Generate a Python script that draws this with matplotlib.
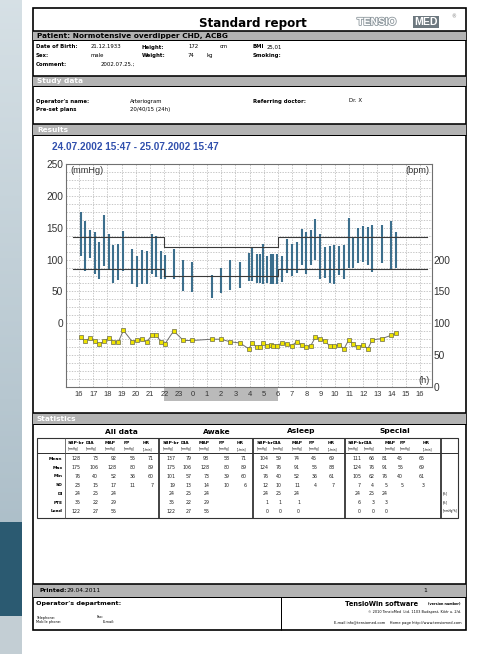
import matplotlib
matplotlib.use('Agg')
import matplotlib.pyplot as plt
from matplotlib.patches import Rectangle
import matplotlib.patheffects as pe
import numpy as np

W, H = 491, 654

# ---------------- data ----------------
times = [16.12, 16.42, 16.77, 17.10, 17.43, 17.76, 18.11, 18.41, 18.77, 19.12,
         19.75, 20.08, 20.41, 20.76, 21.12, 21.44, 21.77, 22.05, 22.66, 23.34,
         23.97, 25.34, 25.97, 26.63, 27.33, 27.94, 28.20, 28.51, 28.74, 28.97,
         29.25, 29.49, 29.67, 29.91, 30.29, 30.66, 30.97, 31.32, 31.67, 31.97,
         32.31, 32.63, 32.96, 33.31, 33.66, 33.97, 34.30, 34.65, 34.98, 35.30,
         35.66, 36.01, 36.32, 36.64, 37.32, 37.96, 38.31]
sbp = [175, 160, 146, 143, 128, 170, 140, 123, 125, 145,
       117, 106, 115, 114, 140, 137, 113, 107, 117, 99,
       96, 76, 86, 100, 96, 110, 120, 108, 108, 125,
       105, 108, 109, 108, 106, 132, 125, 128, 148, 143,
       146, 164, 140, 120, 122, 123, 122, 123, 166, 134,
       150, 152, 151, 155, 155, 161, 143]
dia = [106, 82, 103, 77, 69, 90, 84, 64, 68, 82,
       61, 57, 62, 61, 77, 73, 70, 69, 69, 50,
       49, 40, 48, 53, 55, 66, 67, 64, 64, 62,
       64, 61, 62, 62, 65, 79, 74, 79, 92, 77,
       91, 100, 69, 71, 64, 61, 76, 69, 86, 86,
       95, 96, 92, 81, 95, 83, 86]
hr = [78, 72, 77, 72, 67, 72, 77, 71, 71, 89,
      71, 74, 75, 71, 81, 81, 71, 68, 88, 73,
      73, 75, 75, 71, 69, 60, 69, 62, 63, 69,
      65, 66, 65, 65, 69, 67, 65, 71, 66, 63,
      65, 78, 76, 72, 64, 64, 66, 60, 74, 67,
      63, 66, 60, 74, 76, 81, 84]

limit_x = [15.6, 22, 22, 30, 30, 40.5]
limit_sys = [135, 135, 120, 120, 135, 135]
limit_dia = [85, 85, 75, 75, 85, 85]
sleep_from, sleep_to = 22, 30

hour_ticks = list(range(16, 41))
hour_labels = [str(h % 24) for h in hour_ticks]
left_ticks = [0, 50, 100, 150, 200, 250]
right_ticks = [0, 50, 100, 150, 200]

stat_groups = ['All data', 'Awake', 'Asleep', 'Special']
stat_cols = ['SBP-br', 'DIA', 'MAP', 'PP', 'HR']
stat_units = ['[mmHg]', '[mmHg]', '[mmHg]', '[mmHg]', '[1/min]']
stat_rows = ['Mean', 'Max', 'Min', 'SD', 'DI', 'PTE', 'Load']
stat_row_units = ['', '', '', '', '[%]', '[%]', '[mmHg*h]']
stats_all = [[128, 73, 92, 55, 71], [175, 106, 128, 80, 89], [76, 40, 52, 36, 60],
             [23, 15, 17, 11, 7], [24, 25, 24], [35, 22, 29], [122, 27, 55]]
stats_awake = [[137, 79, 98, 58, 71], [175, 106, 128, 80, 89], [101, 57, 73, 39, 60],
               [19, 13, 14, 10, 6], [24, 25, 24], [35, 22, 29], [122, 27, 55]]
stats_asleep = [[104, 59, 74, 45, 69], [124, 76, 91, 55, 88], [76, 40, 52, 36, 61],
                [12, 10, 11, 4, 7], [24, 25, 24], [1, 1, 1], [0, 0, 0]]
stats_special = [[111, 66, 81, 45, 65], [124, 76, 91, 55, 69], [105, 62, 76, 40, 61],
                 [7, 4, 5, 5, 3], [24, 25, 24], [6, 3, 3], [0, 0, 0]]
stats_data = [stats_all, stats_awake, stats_asleep, stats_special]

# ---------------- page ----------------
fig = plt.figure(figsize=(W / 100, H / 100), dpi=100)
bg = fig.add_axes([0, 0, 1, 1])
bg.set_xlim(0, W)
bg.set_ylim(H, 0)
bg.axis('off')

SANS = 'DejaVu Sans'
ARIAL = 'Liberation Sans'


def T(x, y, s, size, bold=False, color='black', ha='left', va='center', family=SANS, z=5, **kw):
    return bg.text(x, y, s, fontsize=size, fontweight='bold' if bold else 'normal',
                   color=color, ha=ha, va=va, family=family, zorder=z, **kw)


def R(x0, y0, x1, y1, fc, ec='none', lw=0, z=1):
    bg.add_patch(Rectangle((x0, y0), x1 - x0, y1 - y0, fc=fc, ec=ec, lw=lw, zorder=z))


def L(xs, ys, color='black', lw=1.0, z=4):
    bg.plot(xs, ys, color=color, lw=lw * 0.72, zorder=z, solid_capstyle='butt')


# left background strip
grad = np.linspace(0, 1, 200)[:, None]
cols = np.array([[0.84, 0.88, 0.90], [0.68, 0.75, 0.79]])
img = cols[0] * (1 - grad[..., None]) + cols[1] * grad[..., None]
bg.imshow(img, extent=[0, 22, 522, 0], aspect='auto', zorder=0)
R(0, 522, 22, 616, '#2b5a71', z=0.5)
R(0, 616, 22, 654, '#c3ced4', z=0.5)

# outer frame
R(33, 8, 466, 630, 'white', ec='black', lw=1.2, z=1)

# title
T(253, 24, 'Standard report', 8.6, bold=True, ha='center')
T(357, 22, 'TENSIO', 7.6, bold=True, color='white', family=ARIAL,
  path_effects=[pe.withStroke(linewidth=1.2, foreground='#8e989e')])
T(414, 22, 'MED', 7.6, bold=True, color='white', family=ARIAL,
  bbox=dict(boxstyle='square,pad=0.12', fc='#6d787f', ec='none'))
T(451, 17, '®', 3.5, color='#777777')

# bands
def band(y0, y1, text, tcolor):
    R(33, y0, 466, y1, '#b3b3b3', z=2)
    L([33, 466], [y0, y0], lw=1.6)
    L([33, 466], [y1, y1], lw=1.0)
    T(37, (y0 + y1) / 2 + 0.3, text, 5.3, bold=True, color=tcolor)


band(31, 39.5, 'Patient: Normotensive overdipper CHD, ACBG', 'black')
band(76, 86, 'Study data', 'white')
band(124, 135, 'Results', 'white')
band(413, 424, 'Statistics', 'white')
band(584, 597, '', 'black')

# patient info
fs = 3.9
T(36, 47, 'Date of Birth:', fs, bold=True)
T(91, 47, '21.12.1933', fs)
T(142, 47, 'Height:', fs, bold=True)
T(188, 47, '172', fs)
T(220, 47, 'cm', fs)
T(253, 47, 'BMI', fs, bold=True)
T(267, 47, '25,01', fs)
T(36, 55.5, 'Sex:', fs, bold=True)
T(91, 55.5, 'male', fs)
T(142, 55.5, 'Weight:', fs, bold=True)
T(188, 55.5, '74', fs)
T(207, 55.5, 'kg', fs)
T(253, 55.5, 'Smoking:', fs, bold=True)
T(36, 64, 'Comment:', fs, bold=True)
T(101, 64, '2002.07.25.;', fs)

T(36, 101, "Operator's name:", fs, bold=True)
T(130, 101, 'Arteriogram', fs)
T(253, 101, 'Referring doctor:', fs, bold=True)
T(349, 101, 'Dr. X', fs)
T(36, 110, 'Pre-set plans', fs, bold=True)
T(130, 110, '20/40/15 (24h)', fs)

T(52, 147, '24.07.2002 15:47 - 25.07.2002 15:47', 7.2, bold=True, color='#3150ad', family=ARIAL)

# ---------------- chart ----------------
x0, x1, ytop, ybot = 66, 432, 164, 387
ax = fig.add_axes([x0 / W, 1 - ybot / H, (x1 - x0) / W, (ybot - ytop) / H], zorder=3)
ax.set_xlim(15.08, 40.84)
ax.set_ylim(-100, 250)
ax.set_xticks(hour_ticks)
ax.set_xticklabels(hour_labels)
ax.set_yticks(left_ticks)
ax.set_yticks(np.arange(-100, 250.1, 12.5), minor=True)
ax.grid(which='both', color='#bdbdbd', linestyle=(0, (1.6, 1.6)), lw=0.6)
ax.set_axisbelow(True)
ax.tick_params(which='both', length=0)
ax.tick_params(axis='y', labelsize=7.3, pad=2.0, labelcolor='#333333')
ax.tick_params(axis='x', labelsize=5.4, pad=3.0, labelcolor='#333333')
for lab in ax.get_xticklabels() + ax.get_yticklabels():
    lab.set_family(ARIAL)
for sp in ax.spines.values():
    sp.set_color('#707070')
    sp.set_linewidth(0.8)

ax.vlines(times, dia, sbp, color='#3c6f8d', lw=1.5, zorder=3)
ax.plot(limit_x, limit_sys, color='#3a3a3a', lw=0.8, zorder=4)
ax.plot(limit_x, limit_dia, color='#3a3a3a', lw=0.8, zorder=4)

trans = matplotlib.transforms.blended_transform_factory(ax.transData, ax.transAxes)
ax.add_patch(Rectangle((sleep_from, -0.064), sleep_to - sleep_from, 0.064, transform=trans,
                       clip_on=False, fc='#bababa', ec='none', zorder=0))

ax2 = ax.twinx()
ax2.set_ylim(0, 350)
ax2.set_yticks(right_ticks)
ax2.tick_params(length=0, labelsize=7.3, pad=1.0, labelcolor='#333333')
for lab in ax2.get_yticklabels():
    lab.set_family(ARIAL)
for sp in ax2.spines.values():
    sp.set_visible(False)
ax2.plot(times, hr, color='#6f6f6f', lw=0.7, marker='s', ms=3.0,
         mfc='#efe400', mec='#6b6b4a', mew=0.5, zorder=5)

ax.text(0.011, 0.972, '(mmHg)', transform=ax.transAxes, fontsize=6.6, family=ARIAL,
        color='#333333', ha='left', va='center')
ax.text(0.994, 0.972, '(bpm)', transform=ax.transAxes, fontsize=6.6, family=ARIAL,
        color='#333333', ha='right', va='center')
ax.text(0.994, 0.027, '(h)', transform=ax.transAxes, fontsize=6.6, family=ARIAL,
        color='#333333', ha='right', va='center')

# ---------------- statistics table ----------------
tx0, tx1, ty0, ty1 = 36.7, 458, 438.3, 518
R(tx0, ty0, tx1, ty1, 'none', ec='#333333', lw=0.8, z=3)
L([tx0, tx1], [453.3, 453.3], color='#333333', lw=1.0)
L([65, 65], [ty0, ty1], color='#555555', lw=0.8)
for gx in [159.3, 252.7, 345, 440.7]:
    L([gx, gx], [ty0, ty1], color='#333333', lw=1.8)

title_x = [121.7, 216.7, 301.7, 395]
hdr_left = [[68, 86, 105, 124, 143],
            [162.7, 180.7, 199, 219, 236.7],
            [256.7, 273, 291.7, 308.7, 328],
            [348, 364, 385, 400, 422.7]]
val_right = [[80.7, 98.3, 116.7, 135.7, 153.3],
             [175, 191.7, 209.3, 229.3, 246.7],
             [268.3, 281.7, 300, 317.3, 335],
             [361, 374.3, 387.7, 403.3, 425]]
row_y = [459 + i * 8.7 for i in range(len(stat_rows))]

for g, name in enumerate(stat_groups):
    T(title_x[g], 431.5, name, 5.4, bold=True, ha='center')
    for c, col in enumerate(stat_cols):
        T(hdr_left[g][c], 442.5, col, 3.2, bold=True)
        T(hdr_left[g][c], 449.3, stat_units[g and 0 or 0] if False else stat_units[c], 1.9)
    for r, rowvals in enumerate(stats_data[g]):
        for c, v in enumerate(rowvals):
            T(val_right[g][c], row_y[r], str(v), 3.4, ha='right', color='#222222')

for r, name in enumerate(stat_rows):
    T(62.5, row_y[r], name, 3.2, bold=True, ha='right')
    if stat_row_units[r]:
        T(442.5, row_y[r], stat_row_units[r], 2.0)

# ---------------- footer ----------------
T(40, 590.5, 'Printed:', 4.3, bold=True)
T(67, 590.5, '29.04.2011', 4.3)
T(425, 591, '1', 4.3, ha='center')
L([280.7, 280.7], [597, 630], lw=1.0)
T(36, 603.5, "Operator's department:", 4.6, bold=True)
T(36, 617.5, 'Telephone:', 2.5)
T(36, 622.3, 'Mobile phone:', 2.5)
T(97, 617.5, 'Fax:', 2.5)
T(103, 622.3, 'E-mail:', 2.5)
T(418, 603.5, 'TensioWin software', 4.8, bold=True, ha='right')
T(461, 603.5, '(version number)', 2.4, bold=True, ha='right')
T(461, 612.5, '© 2010 TensioMed  Ltd. 1103 Budapest, Kőér u. 2/d.', 2.5, ha='right')
T(462, 623, 'E-mail info@tensiomed.com    Home page http://www.tensiomed.com', 2.6, ha='right')

fig.savefig('out.png', dpi=100)
